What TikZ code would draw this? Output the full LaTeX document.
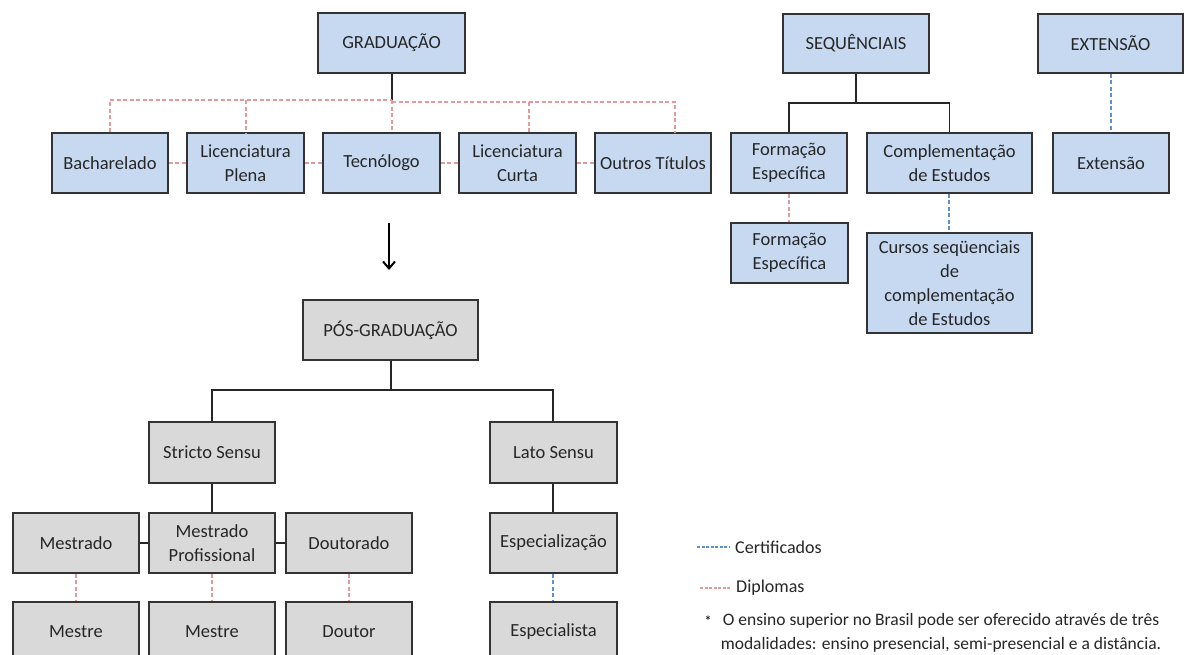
\documentclass[tikz,border=0pt]{standalone}
\usepackage{fontspec}
\setmainfont{Carlito}
\usetikzlibrary{arrows.meta}
\definecolor{boxblue}{HTML}{C6D9F1}
\definecolor{boxgray}{HTML}{D9D9D9}
\definecolor{edge}{HTML}{333333}
\definecolor{dipl}{HTML}{E49A9A}
\definecolor{cert}{HTML}{5B8FD6}
\tikzset{
  base/.style={draw=edge, line width=1.5pt, rectangle, inner sep=0pt, align=center,
    font=\fontsize{18.5}{24}\selectfont, text=black!85},
  bbox/.style={base, fill=boxblue},
  gbox/.style={base, fill=boxgray},
  solidc/.style={draw=black!85, line width=1.5pt},
  diplc/.style={draw=dipl, line width=1.5pt, dash pattern=on 4pt off 2.5pt},
  certc/.style={draw=cert, line width=1.5pt, dash pattern=on 4pt off 2.5pt},
  legtext/.style={anchor=west, inner sep=0pt, font=\fontsize{18}{24}\selectfont, text=black!85},
}
\begin{document}
\begin{tikzpicture}[x=1pt,y=-1pt]
\clip (0,0) rectangle (1184,654);
\fill[white] (0,0) rectangle (1184,654);
% GRADUACAO
\node[bbox, minimum width=147, minimum height=60] (grad) at (391.5,43) {GRADUAÇÃO};
\node[bbox, minimum width=116, minimum height=60] (bach) at (110,163) {Bacharelado};
\node[bbox, minimum width=117, minimum height=60] (licp) at (245.5,163) {Licenciatura\\Plena};
\node[bbox, minimum width=117, minimum height=60] (tec) at (381.5,163) {Tecnólogo};
\node[bbox, minimum width=117, minimum height=60] (licc) at (517.5,163) {Licenciatura\\Curta};
\node[bbox, minimum width=116, minimum height=60] (outr) at (653,163) {Outros Títulos};
\coordinate (gj) at (392,100);
\coordinate (gjr) at (392,102);
\draw[solidc] (grad.south -| gj) -- (gj);
\draw[diplc] (bach.north) |- (gj);
\draw[diplc] (246,100) -- (246,133);
\draw[diplc] (gj) -- (gj |- tec.north);
\draw[diplc] (gjr) -| (675,133);
\draw[diplc] (529,102) -- (529,133);
\draw[diplc] (bach.east) -- (licp.west);
\draw[diplc] (licp.east) -- (tec.west);
\draw[diplc] (tec.east) -- (licc.west);
\draw[diplc] (licc.east) -- (outr.west);
% arrow
\coordinate (a1) at (389,223);
\coordinate (a2) at (389,270);
\draw[line width=2.5pt, black, -{Straight Barb[length=7pt,width=12pt,line width=2pt]}] (a1) -- (a2);
% SEQUENCIAIS
\node[bbox, minimum width=146, minimum height=59] (seq) at (856,43.5) {SEQUÊNCIAIS};
\node[bbox, minimum width=145, minimum height=59] (ext) at (1110.5,43.5) {EXTENSÃO};
\node[bbox, minimum width=116, minimum height=60] (form1) at (789,163) {Formação\\Específica};
\node[bbox, minimum width=165, minimum height=60] (comp) at (949.5,163) {Complementação\\de Estudos};
\node[bbox, minimum width=116, minimum height=60] (extn) at (1111,163) {Extensão};
\node[bbox, minimum width=117, minimum height=60] (form2) at (789.5,253) {Formação\\Específica};
\node[bbox, minimum width=165, minimum height=100] (curs) at (949.5,283) {Cursos seqüenciais\\de\\complementação\\de Estudos};
\coordinate (sj) at (856,103);
\coordinate (cx) at (949,0);
\draw[solidc] (seq.south) -- (sj);
\draw[solidc] (form1.north) |- (sj) -| (comp.north);
\draw[certc] (ext.south -| extn.north) -- (extn.north);
\draw[diplc] (form1.south) -- (form1.south |- form2.north);
\draw[certc] (comp.south -| cx) -- (curs.north -| cx);
% POS-GRADUACAO
\node[gbox, minimum width=175, minimum height=60] (pos) at (390.5,330) {PÓS-GRADUAÇÃO};
\node[gbox, minimum width=126, minimum height=61] (stri) at (212,452.5) {Stricto Sensu};
\node[gbox, minimum width=127, minimum height=61] (lato) at (553.5,452.5) {Lato Sensu};
\node[gbox, minimum width=126, minimum height=60] (mest) at (76,543) {Mestrado};
\node[gbox, minimum width=126, minimum height=60] (mprof) at (212,543) {Mestrado\\Profissional};
\node[gbox, minimum width=126, minimum height=60] (dout) at (349,543) {Doutorado};
\node[gbox, minimum width=127, minimum height=60] (espz) at (553.5,543) {Especialização};
\node[gbox, minimum width=126, minimum height=60] (mest2) at (76,632) {Mestre};
\node[gbox, minimum width=126, minimum height=60] (mest3) at (212,632) {Mestre};
\node[gbox, minimum width=126, minimum height=60] (dtor) at (349,632) {Doutor};
\node[gbox, minimum width=127, minimum height=60] (espl) at (553.5,632) {Especialista};
\coordinate (pj) at (391,390);
\coordinate (lx) at (553,0);
\draw[solidc] (pos.south -| pj) -- (pj);
\draw[solidc] (stri.north) |- (pj) -| (lato.north -| lx);
\draw[solidc] (stri.south) -- (mprof.north);
\draw[solidc] (lato.south -| lx) -- (espz.north -| lx);
\draw[solidc] (mest.east) -- (mprof.west);
\draw[solidc] (mprof.east) -- (dout.west);
\draw[diplc] (mest.south) -- (mest2.north);
\draw[diplc] (mprof.south) -- (mest3.north);
\draw[diplc] (dout.south) -- (dtor.north);
\draw[certc] (espz.south -| lx) -- (espl.north -| lx);
% legend
\coordinate (lc1) at (697,547);
\coordinate (lc2) at (730,547);
\coordinate (ld1) at (700,588);
\coordinate (ld2) at (731,588);
\draw[certc, line width=1.2pt, dash pattern=on 3pt off 1.5pt] (lc1) -- (lc2);
\draw[diplc, line width=1.2pt, dash pattern=on 3pt off 1.5pt] (ld1) -- (ld2);
\node[legtext] (lcert) at (735,547) {Certificados};
\node[legtext] (ldipl) at (736,588) {Diplomas};
\node[inner sep=0pt, align=center, font=\fontsize{17.5}{24.5}\selectfont, text=black!85] (note) at (941,633)
  {O ensino superior no Brasil pode ser oferecido através de três\\modalidades: ensino presencial, semi-presencial e a distância.};
\node[inner sep=0pt, font=\fontsize{15}{18}\selectfont] (star) at (708,621) {*};
\end{tikzpicture}
\end{document}
